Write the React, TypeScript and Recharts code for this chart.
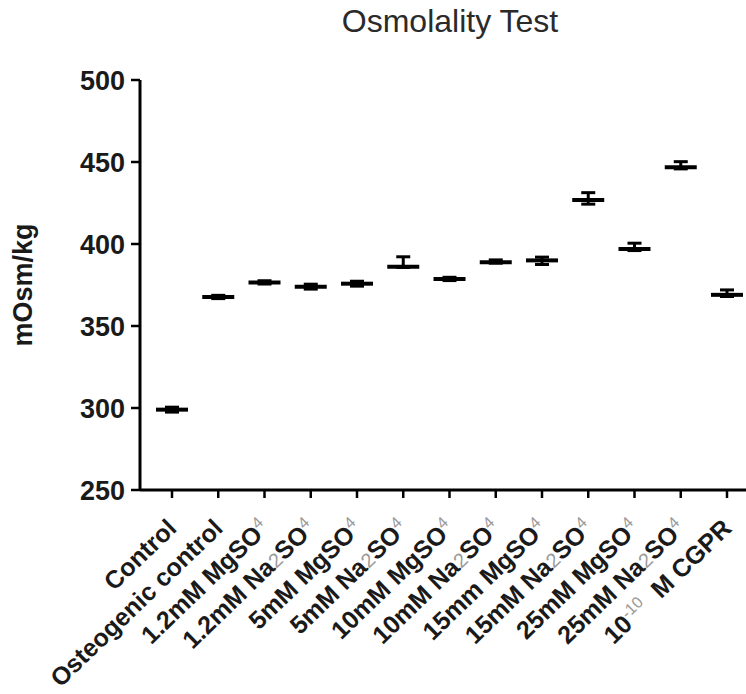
import {
  ComposedChart,
  Scatter,
  ErrorBar,
  XAxis,
  YAxis,
} from "recharts";

// category labels: _x = grey subscript-ish digit, ^x = grey superscript
const categories = [
  "Control",
  "Osteogenic control",
  "1.2mM MgSO^4",
  "1.2mM Na_2SO^4",
  "5mM MgSO^4",
  "5mM Na_2SO^4",
  "10mM MgSO^4",
  "10mM Na_2SO^4",
  "15mm MgSO^4",
  "15mM Na_2SO^4",
  "25mM MgSO^4",
  "25mM Na_2SO^4",
  "10^-10 M CGPR",
];
const means = [299, 367.7, 376.6, 374, 375.8, 386.2, 378.7, 388.8, 390, 426.8, 397, 446.8, 369];
const errLow = [1.5, 1, 1, 1.5, 1.5, 0.5, 1, 0.5, 2.5, 2.5, 1, 1, 1];
const errHigh = [1.5, 1, 1, 1.5, 1.5, 6, 1, 1.5, 2, 4.5, 3.5, 3.4, 3];
const yTicks = [250, 300, 350, 400, 450, 500];

const data = categories.map((name, i) => ({
  name,
  mean: means[i],
  err: [errLow[i], errHigh[i]],
}));

const FONT = "'Liberation Sans', Arial, sans-serif";
const INK = "#1a1a1a";

function parseLabel(s: string) {
  const parts: { t: string; kind: "n" | "sub" | "sup" }[] = [];
  const re = /(_\d+|\^-?\d+)/g;
  let last = 0;
  let m;
  while ((m = re.exec(s))) {
    if (m.index > last) parts.push({ t: s.slice(last, m.index), kind: "n" });
    parts.push({ t: m[0].slice(1), kind: m[0][0] === "_" ? "sub" : "sup" });
    last = m.index + m[0].length;
  }
  if (last < s.length) parts.push({ t: s.slice(last), kind: "n" });
  return parts;
}

const XTick = (props: any) => {
  const { x, y, payload } = props;
  const parts = parseLabel(payload.value);
  return (
    <g transform={`translate(${x + 6},${y + 30}) rotate(-44)`}>
      <text
        x={0}
        y={0}
        textAnchor="end"
        fontFamily={FONT}
        fontSize={25}
        fontWeight="bold"
        fill={INK}
      >
        {parts.map((p, i) => {
          const prev = parts[i - 1];
          if (p.kind === "n") {
            // back to baseline after a superscript, with a bit of extra gap
            const afterSup = prev && prev.kind === "sup";
            return (
              <tspan key={i} dy={afterSup ? 9 : undefined} dx={afterSup && p.t.startsWith(" ") ? 8 : undefined}>
                {p.t}
              </tspan>
            );
          }
          return p.kind === "sub" ? (
            <tspan key={i} fill="#999" fontWeight="normal" fontSize={20}>
              {p.t}
            </tspan>
          ) : (
            <tspan key={i} fill="#999" fontWeight="normal" fontSize={16} dy={-9}>
              {p.t}
            </tspan>
          );
        })}
      </text>
    </g>
  );
};

const MeanLine = (props: any) => {
  const { cx, cy } = props;
  return (
    <line x1={cx - 16} x2={cx + 16} y1={cy} y2={cy} stroke="#000" strokeWidth={4} />
  );
};

export default function App() {
  return (
    <div
      style={{
        position: "absolute",
        left: 0,
        top: 0,
        width: 746,
        height: 694,
        overflow: "hidden",
        background: "#fff",
      }}
    >
      <svg
        width={746}
        height={60}
        style={{ position: "absolute", left: 0, top: 0 }}
      >
        <text
          x={450}
          y={32}
          textAnchor="middle"
          fontFamily={FONT}
          fontSize={32}
          fill="#2a2a2a"
        >
          Osmolality Test
        </text>
      </svg>
      <ComposedChart
        width={760}
        height={694}
        data={data}
        margin={{ top: 80, right: 10, left: 50, bottom: 4 }}
      >
        <XAxis
          dataKey="name"
          interval={0}
          tick={<XTick />}
          tickSize={8}
          height={200}
          padding={{ left: 32, right: 23 }}
          axisLine={{ stroke: "#000", strokeWidth: 3 }}
          tickLine={{ stroke: "#000", strokeWidth: 2.5 }}
        />
        <YAxis
          domain={[250, 500]}
          ticks={yTicks}
          interval={0}
          width={90}
          tickSize={9}
          tickMargin={6}
          axisLine={{ stroke: "#000", strokeWidth: 3 }}
          tickLine={{ stroke: "#000", strokeWidth: 2.5 }}
          tick={{
            fontFamily: FONT,
            fontSize: 27,
            fontWeight: "bold",
            fill: INK,
          }}
          label={{
            content: (p: any) => {
              const vb = p.viewBox || { y: 80, height: 410 };
              const cy = vb.y + vb.height / 2;
              return (
                <text
                  x={32}
                  y={cy}
                  transform={`rotate(-90, 32, ${cy})`}
                  textAnchor="middle"
                  fontFamily={FONT}
                  fontSize={27}
                  fontWeight="bold"
                  fill={INK}
                >
                  mOsm/kg
                </text>
              );
            },
          }}
        />
        <Scatter dataKey="mean" shape={<MeanLine />} isAnimationActive={false}>
          <ErrorBar
            dataKey="err"
            direction="y"
            width={7}
            strokeWidth={3}
            stroke="#000"
            isAnimationActive={false}
          />
        </Scatter>
      </ComposedChart>
    </div>
  );
}
